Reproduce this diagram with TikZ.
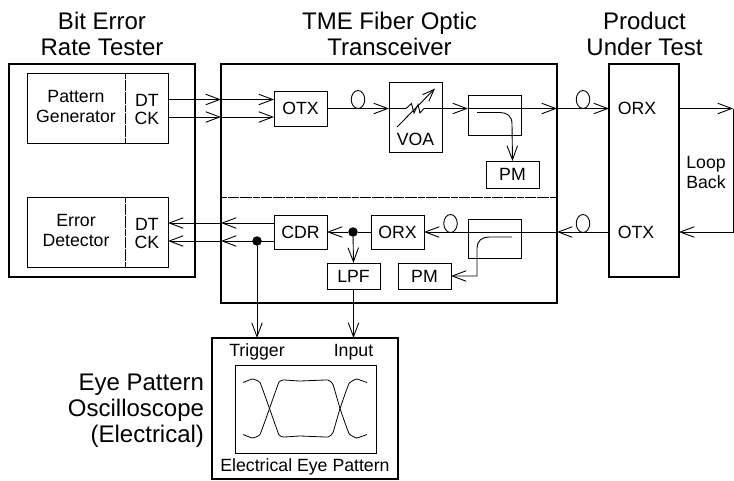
\documentclass[tikz,border=0pt]{standalone}
\usepackage{fontspec}
\setmainfont{Liberation Sans}
\usetikzlibrary{arrows.meta,calc,shapes.geometric}
\newcommand{\bx}[7][thinbox]{\node[#1,minimum width={(#5-#3)*1pt},minimum height={(#6-#4)*1pt}] (#2) at ({(#3+#5)/2},{(#4+#6)/2}) {#7};}
\tikzset{
  thinbox/.style={draw=black,line width=0.9pt,inner sep=0pt,outer sep=0pt,rectangle,align=center,font=\fontsize{17.7}{20}\selectfont},
  thickbox/.style={thinbox,line width=2pt},
  lab/.style={inner sep=0pt,outer sep=0pt,align=center,font=\fontsize{17.7}{20}\selectfont},
  ttl/.style={inner sep=0pt,outer sep=0pt,align=center,font=\fontsize{24}{26}\selectfont},
  conn/.style={line width=0.9pt,-{Straight Barb[length=14pt,width=10.5pt,line width=0.9pt]}},
  wire/.style={line width=0.9pt},
  fine/.style={line width=0.8pt,dash pattern=on 5pt off 0.3pt on 1pt off 0.3pt},
  fiber/.style={draw=black,line width=0.9pt,ellipse,minimum width=13.5pt,minimum height=18pt,inner sep=0pt,outer sep=0pt},
  junct/.style={circle,fill=black,inner sep=0pt,minimum size=9.5pt},
}
\begin{document}
\begin{tikzpicture}[x=1pt,y=-1pt]
\useasboundingbox (0,0) rectangle (734,480);
% titles
\node[ttl] (t1) at (102,33.5) {Bit Error\\Rate Tester};
\node[ttl] (t2) at (389.5,33.5) {TME Fiber Optic\\Transceiver};
\node[ttl] (t3) at (644.5,33.5) {Product\\Under Test};
\node[ttl,align=right,anchor=east] (t4) at (204,411) {Eye Pattern\\Oscilloscope\\(Electrical)};
% main boxes
\bx[thickbox]{bert}{9}{64}{195}{277}{}
\bx[thickbox]{tr}{221}{64}{557}{303}{}
\bx[thickbox]{dut}{609}{64}{679}{277}{}
\bx[thickbox]{scope}{212}{338}{398}{479}{}
% BERT interior
\bx{pg}{27}{73}{168}{143}{}
\bx{ed}{27}{197}{168}{267}{}
\coordinate (pgt) at (125,73); \coordinate (pgb) at (125,143);
\coordinate (edt) at (125,197); \coordinate (edb) at (125,267);
\draw[fine] (pgt) -- (pgb);
\draw[fine] (edt) -- (edb);
\node[lab] (pgl) at (76,106) {Pattern\\Generator};
\node[lab] (edl) at (76,230) {Error\\Detector};
\node[lab] (dc1) at (147,109) {DT\\[-2pt]CK};
\node[lab] (dc2) at (147,233) {DT\\[-2pt]CK};
% transceiver interior
\bx{otx}{274}{91}{327}{126}{OTX}
\bx{cdr}{274}{215}{327}{249}{CDR}
\bx{voa}{389}{82}{442}{152}{}
\node[lab] (voal) at (415.5,139) {VOA};
\bx{c1}{468}{95}{521}{135}{}
\bx{pm1}{486}{161}{539}{188}{PM}
\bx{orx}{371}{215}{424}{249}{ORX}
\bx{c2}{468}{219}{521}{258}{}
\bx{lpf}{327}{263}{380}{289}{LPF}
\bx{pm2}{398}{263}{451}{289}{PM}
\coordinate (divl) at (221,197); \coordinate (divr) at (557,197);
\draw[fine] (divl) -- (divr);
% DUT labels
\node[lab] (dorx) at (637,108.5) {ORX};
\node[lab] (dotx) at (636,232) {OTX};
\node[lab] (lb) at (706,172) {Loop\\Back};
% input data lines
\coordinate (dt1) at (168,99.5); \coordinate (ck1) at (168,117);
\coordinate (dt2) at (168,223); \coordinate (ck2) at (168,241);
\draw[conn] (dt1) -- (tr.west |- dt1);
\draw[conn] (tr.west |- dt1) -- (otx.west |- dt1);
\draw[conn] (ck1) -- (tr.west |- ck1);
\draw[conn] (tr.west |- ck1) -- (otx.west |- ck1);
\draw[conn] (cdr.west |- dt2) -- (tr.west |- dt2);
\draw[conn] (tr.west |- dt2) -- (dt2);
\draw[conn] (cdr.west |- ck2) -- (tr.west |- ck2);
\draw[conn] (tr.west |- ck2) -- (ck2);
% top optical path
\coordinate (zs) at (406,108.5); \coordinate (ze) at (424,108.5);
\draw[conn] (otx.east) -- (voa.west |- otx.east);
\draw[wire] (voa.west |- otx.east) -- (zs) -- (411.5,103.5) -- (414,113) -- (418,104.5) -- (420,113) -- (ze) -- (voa.east |- otx.east);
\coordinate (va) at (397,127); \coordinate (vb) at (435,88.5);
\draw[line width=0.9pt,-{Straight Barb[length=12pt,width=9pt,line width=0.9pt]}] (va) -- (vb);
\draw[conn] (voa.east |- otx.east) -- (c1.west |- otx.east);
\draw[conn] (c1.west |- otx.east) -- (tr.east |- otx.east);
\draw[conn] (tr.east |- otx.east) -- (dut.west |- otx.east);
\coordinate (ct1) at (477,112.5); \coordinate (ct2) at (500,112.5); \coordinate (ct3) at (512,124);
\draw[conn] (ct1) -- (ct2) .. controls (507,112.5) and (512,116) .. (ct3) -- (pm1.north);
% bottom optical path
\node[junct] (d1) at (353,232) {};
\node[junct] (d2) at (257,241) {};
\coordinate (botr) at (733,232); \coordinate (topr) at (733,108.5);
\draw[conn] (dut.west |- orx.east) -- (tr.east |- orx.east);
\draw[conn] (tr.east |- orx.east) -- (orx.east);
\draw[wire] (orx.west) -- (d1);
\draw[conn] (d1) -- (cdr.east);
\draw[conn] (d1) -- (lpf.north);
\draw[conn] (lpf.south) -- (scope.north -| lpf.south);
\draw[conn] (d2) -- (scope.north -| d2);
\coordinate (cb1) at (512,237); \coordinate (cb2) at (489,237); \coordinate (cb3) at (477,248);
\draw[conn] (cb1) -- (cb2) .. controls (482,237) and (477,241) .. (cb3) -- (477,276) -- (pm2.east);
% loop back
\draw[conn] (dut.east |- topr) -- (topr);
\draw[conn] (topr) -- (botr) -- (dut.east |- botr);
% fiber marks
\node[fiber] (f1) at (358,99.5) {};
\node[fiber] (f2) at (583,99.5) {};
\node[fiber] (f3) at (450.5,223.5) {};
\node[fiber] (f4) at (583,223.5) {};
% scope interior
\node[lab] (trg) at (257,352) {Trigger};
\node[lab] (inp) at (353.5,352) {Input};
\bx{eye}{235}{365}{376}{453}{}
\node[lab] (eep) at (305,467) {Electrical Eye Pattern};
\foreach \s in {1,-1}{
\draw[line width=0.8pt,line join=round] plot[smooth,tension=0.2] coordinates {
 ({243},{408.5-\s*26}) ({252.5},{408.5-\s*29.5}) ({260},{408.5-\s*26}) ({269.5},{408.5}) ({279},{408.5+\s*26.5}) ({284},{408.5+\s*28.5}) ({300},{408.5+\s*27.5}) ({328},{408.5+\s*28.5}) ({333},{408.5+\s*24}) ({340},{408.5}) ({349},{408.5-\s*25}) ({356.5},{408.5-\s*29.5}) ({367},{408.5-\s*26})};
}
\end{tikzpicture}
\end{document}
